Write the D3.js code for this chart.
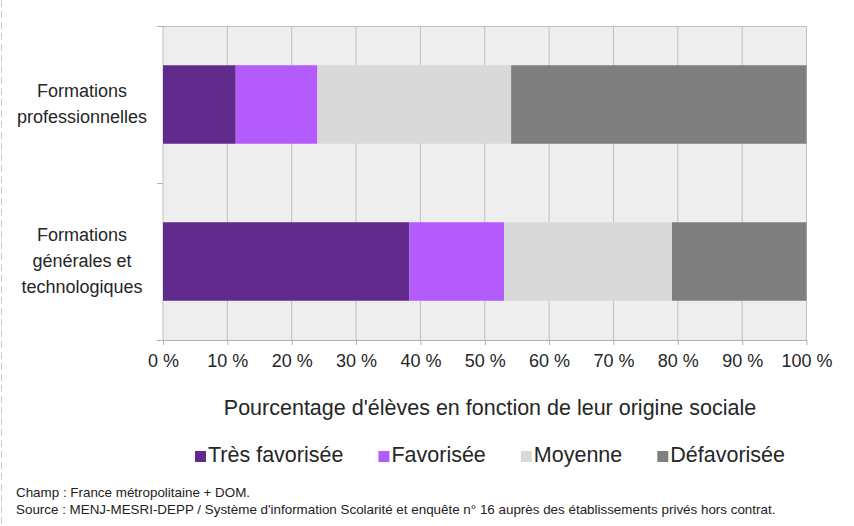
<!DOCTYPE html>
<html>
<head>
<meta charset="utf-8">
<script src="https://cdn.jsdelivr.net/npm/d3@7"></script>
<style>
  body { margin: 0; background: #fff; }
  svg { display: block; font-family: "Liberation Sans", Arial, sans-serif; }
</style>
</head>
<body>
<svg id="chart" width="854" height="526"></svg>
<script>
// data (percent of pupils)
const categories = ["Formations professionnelles", "Formations générales et technologiques"];
const categoryLines = [["Formations", "professionnelles"], ["Formations", "générales et", "technologiques"]];
const series = ["Très favorisée", "Favorisée", "Moyenne", "Défavorisée"];
const tresFavorisee = [11.3, 38.3];
const favorisee = [12.7, 14.7];
const moyenne = [30.1, 26.1];
const defavorisee = [45.9, 20.9];
const xTicks = [0, 10, 20, 30, 40, 50, 60, 70, 80, 90, 100];
const colors = ["#612a8c", "#b35bfc", "#d9d9d9", "#7f7f7f"];

const svg = d3.select("#chart");

// dashed frame edge on the left
svg.append("line")
  .attr("x1", 1.5).attr("x2", 1.5).attr("y1", 0).attr("y2", 526)
  .attr("stroke", "#c8c8c8").attr("stroke-dasharray", "7,4");

const plotLeft = 163, plotRight = 806.5, plotTop = 26, plotBottom = 340;
const x = d3.scaleLinear().domain([0, 100]).range([plotLeft, plotRight]);
const y = d3.scaleBand().domain(categories).range([plotTop, plotBottom])
  .paddingInner(0.5).paddingOuter(0.25);

// plot background
svg.append("rect")
  .attr("x", plotLeft).attr("y", plotTop)
  .attr("width", plotRight - plotLeft).attr("height", plotBottom - plotTop)
  .attr("fill", "#eeeeee");

// vertical gridlines
svg.append("g")
  .selectAll("line")
  .data(xTicks)
  .join("line")
  .attr("x1", d => x(d)).attr("x2", d => x(d))
  .attr("y1", plotTop).attr("y2", plotBottom)
  .attr("stroke", "#c0c0c0");

// top border + category ticks on the left
const catBounds = [plotTop, (plotTop + plotBottom) / 2, plotBottom];
svg.append("line")
  .attr("x1", plotLeft - 6).attr("x2", plotRight)
  .attr("y1", plotTop + 0.5).attr("y2", plotTop + 0.5)
  .attr("stroke", "#c0c0c0");
svg.append("g")
  .selectAll("line")
  .data(catBounds)
  .join("line")
  .attr("x1", plotLeft - 6).attr("x2", plotLeft)
  .attr("y1", d => d + 0.5).attr("y2", d => d + 0.5)
  .attr("stroke", "#b0b0b0");

// stacked bars
const table = categories.map((c, i) => ({
  cat: c,
  "Très favorisée": tresFavorisee[i],
  "Favorisée": favorisee[i],
  "Moyenne": moyenne[i],
  "Défavorisée": defavorisee[i]
}));
const stacked = d3.stack().keys(series)(table);

svg.append("g")
  .selectAll("g")
  .data(stacked)
  .join("g")
  .attr("fill", (d, i) => colors[i])
  .selectAll("rect")
  .data(d => d)
  .join("rect")
  .attr("x", d => x(d[0]))
  .attr("width", d => x(d[1]) - x(d[0]))
  .attr("y", d => y(d.data.cat))
  .attr("height", y.bandwidth());

// x axis
const xAxis = svg.append("g")
  .attr("transform", `translate(0,${plotBottom})`)
  .call(d3.axisBottom(x).tickValues(xTicks).tickSize(5).tickPadding(8)
    .tickFormat(d => d + " %"));
xAxis.select(".domain").attr("stroke", "#b0b0b0").attr("d", `M${plotLeft - 6},0.5H${plotRight}`);
xAxis.selectAll(".tick line").attr("stroke", "#b0b0b0");
xAxis.selectAll(".tick text")
  .attr("font-size", 18).attr("fill", "#262626")
  .attr("font-family", "'Liberation Sans', Arial, sans-serif")
  .attr("dy", null).attr("y", 27);

// category labels
svg.append("g")
  .selectAll("text")
  .data(categories)
  .join("text")
  .attr("text-anchor", "middle")
  .attr("font-size", 18)
  .attr("fill", "#262626")
  .each(function (c, i) {
    const lines = categoryLines[i];
    const cy = y(c) + y.bandwidth() / 2;
    d3.select(this).selectAll("tspan")
      .data(lines)
      .join("tspan")
      .attr("x", 82)
      .attr("y", (l, j) => cy + (j - (lines.length - 1) / 2) * 26 + 5)
      .text(l => l);
  });

// axis title
svg.append("text")
  .attr("x", 490).attr("y", 415)
  .attr("text-anchor", "middle")
  .attr("font-size", 21.5)
  .attr("fill", "#262626")
  .text("Pourcentage d'élèves en fonction de leur origine sociale");

// legend
const legend = svg.append("g");
let lx = 195;
series.forEach((s, i) => {
  legend.append("rect")
    .attr("x", lx).attr("y", 451)
    .attr("width", 11).attr("height", 11)
    .attr("fill", colors[i]);
  const t = legend.append("text")
    .attr("x", lx + 13).attr("y", 462)
    .attr("font-size", 21.5)
    .attr("fill", "#262626")
    .text(s);
  lx += 13 + t.node().getComputedTextLength() + 35;
});

// footnotes
const notes = [
  "Champ : France métropolitaine + DOM.",
  "Source : MENJ-MESRI-DEPP / Système d'information Scolarité et enquête n° 16 auprès des établissements privés hors contrat."
];
svg.append("g")
  .selectAll("text")
  .data(notes)
  .join("text")
  .attr("x", 16)
  .attr("y", (d, i) => 497 + i * 17)
  .attr("font-size", 13.4)
  .attr("fill", "#222")
  .text(d => d);
</script>
</body>
</html>
